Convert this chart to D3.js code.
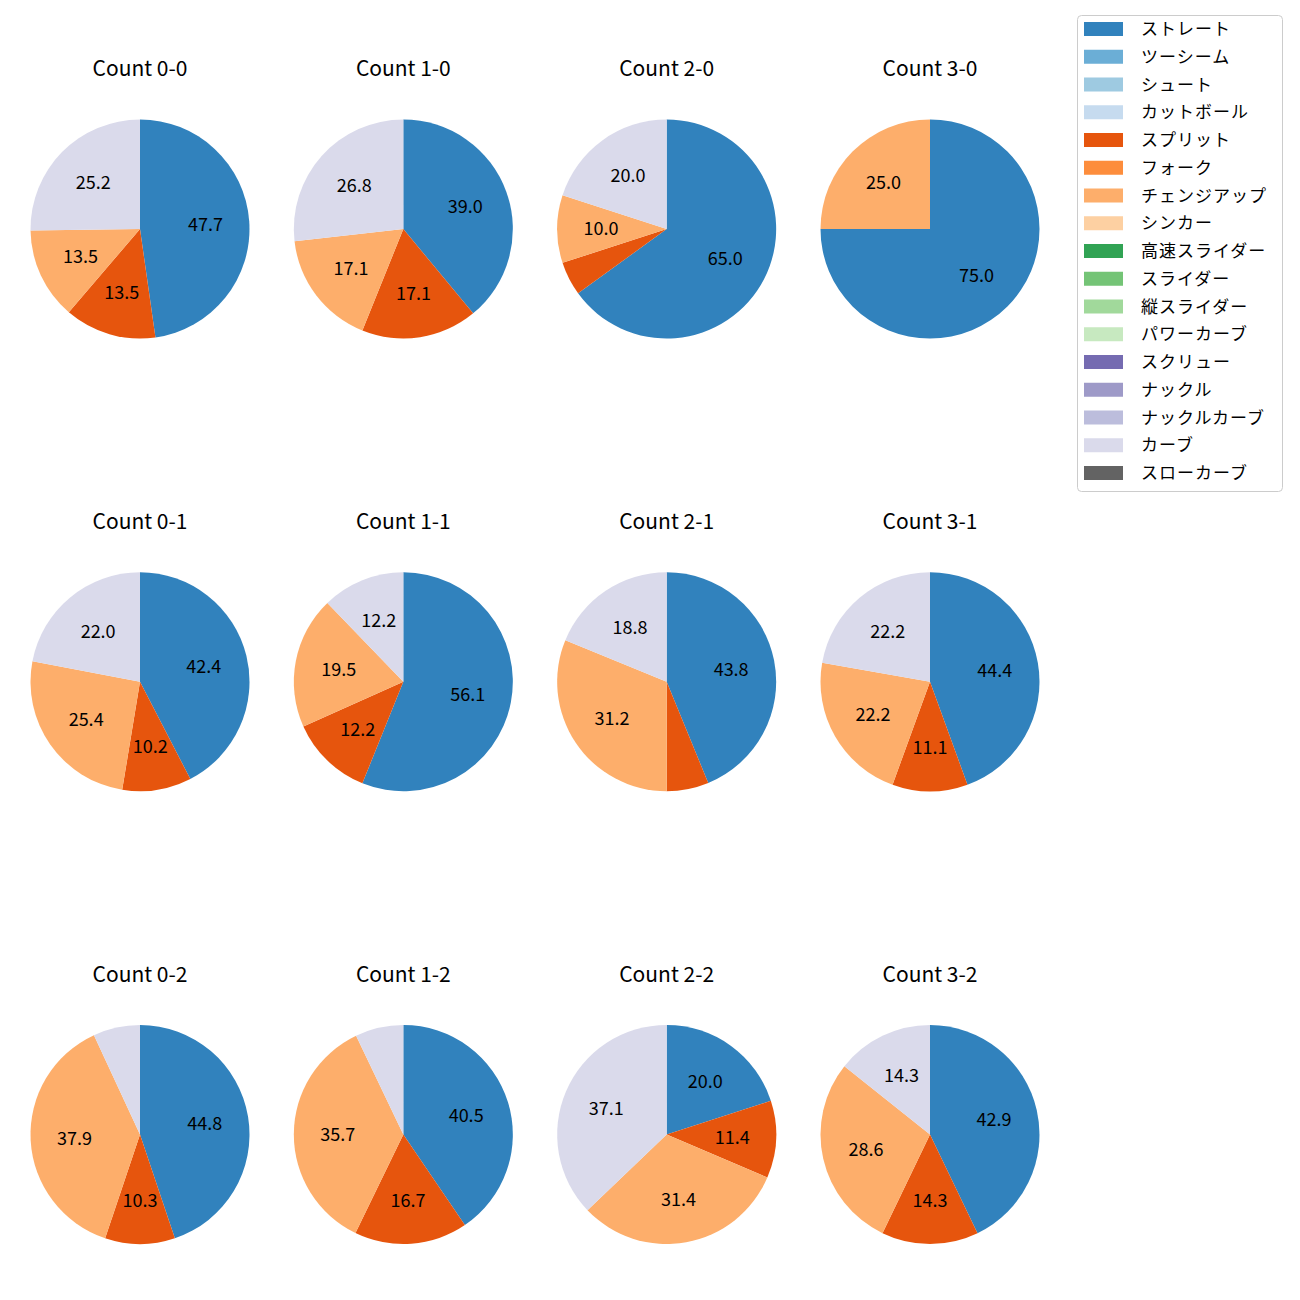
<!DOCTYPE html>
<html><head><meta charset="utf-8">
<script src="https://cdn.jsdelivr.net/npm/d3@7"></script>
<style>body{margin:0;background:#fff;} text{font-family:"Noto Sans CJK JP","DejaVu Sans",sans-serif;}</style>
</head><body>
<svg id="chart" width="1300" height="1300"></svg>
<script>
const pitchTypes = ["ストレート","ツーシーム","シュート","カットボール","スプリット","フォーク","チェンジアップ","シンカー","高速スライダー","スライダー","縦スライダー","パワーカーブ","スクリュー","ナックル","ナックルカーブ","カーブ","スローカーブ"];
const pitchColors = ["#3182bd","#6baed6","#9ecae1","#c6dbef","#e6550d","#fd8d3c","#fdae6b","#fdd0a2","#31a354","#74c476","#a1d99b","#c7e9c0","#756bb1","#9e9ac8","#bcbddc","#dadaeb","#636363"];
const counts = ["0-0","1-0","2-0","3-0","0-1","1-1","2-1","3-1","0-2","1-2","2-2","3-2"];
// values per count, in order: ストレート, スプリット, チェンジアップ, カーブ
const shownTypes = ["ストレート","スプリット","チェンジアップ","カーブ"];
const straight = [47.7, 39.0, 65.0, 75.0, 42.4, 56.1, 43.8, 44.4, 44.8, 40.5, 20.0, 42.9];
const split    = [13.5, 17.1,  5.0,  0.0, 10.2, 12.2,  6.2, 11.1, 10.3, 16.7, 11.4, 14.3];
const changeup = [13.5, 17.1, 10.0, 25.0, 25.4, 19.5, 31.2, 22.2, 37.9, 35.7, 31.4, 28.6];
const curve    = [25.2, 26.8, 20.0,  0.0, 22.0, 12.2, 18.8, 22.2,  6.9,  7.1, 37.1, 14.3];

const svg = d3.select("#chart");
const color = d3.scaleOrdinal().domain(pitchTypes).range(pitchColors);
const colX = d3.scalePoint().domain([0,1,2,3]).range([140, 930]);
const rowY = d3.scalePoint().domain([0,1,2]).range([229, 1134.5]);
const R = 109.5;
const pie = d3.pie().sort(null).value(d => d.v).startAngle(0).endAngle(2*Math.PI);
const arc = d3.arc().innerRadius(0).outerRadius(R);
const labelArc = d3.arc().innerRadius(R*0.6).outerRadius(R*0.6);

counts.forEach((c, i) => {
  const data = [straight[i], split[i], changeup[i], curve[i]].map((v, k) => ({t: shownTypes[k], v}));
  const g = svg.append("g").attr("transform", `translate(${colX(i%4)},${rowY(Math.floor(i/4))})`);
  const arcs = pie(data.filter(d => d.v > 0));
  g.selectAll("path").data(arcs).join("path")
    .attr("d", arc).attr("fill", d => color(d.data.t));
  g.selectAll("text.lbl").data(arcs.filter(d => d.data.v >= 10)).join("text")
    .attr("class","lbl")
    .attr("transform", d => `translate(${labelArc.centroid(d)})`)
    .attr("text-anchor","middle").attr("dy","0.36em")
    .attr("font-size", 18).attr("fill","#000")
    .text(d => d.data.v.toFixed(1));
  g.append("text").attr("x",0).attr("y",-R-43.5).attr("text-anchor","middle")
    .attr("font-size",21).attr("fill","#000").text("Count " + c);
});

// legend
const lg = svg.append("g");
lg.append("rect").attr("x",1077.5).attr("y",15.5).attr("width",205).attr("height",476)
  .attr("rx",4).attr("fill","#fff").attr("stroke","#ccc").attr("stroke-width",1);
const ly = d3.scaleLinear().domain([0, pitchTypes.length-1]).range([29, 473]);
pitchTypes.forEach((t, k) => {
  lg.append("rect").attr("x",1084).attr("y",ly(k)-7).attr("width",39).attr("height",14).attr("fill",color(t));
  lg.append("text").attr("x",1141).attr("y",ly(k)).attr("dy","0.36em").attr("font-size",17)
    .attr("letter-spacing",1).attr("fill","#000").text(t);
});
</script>
</body></html>
